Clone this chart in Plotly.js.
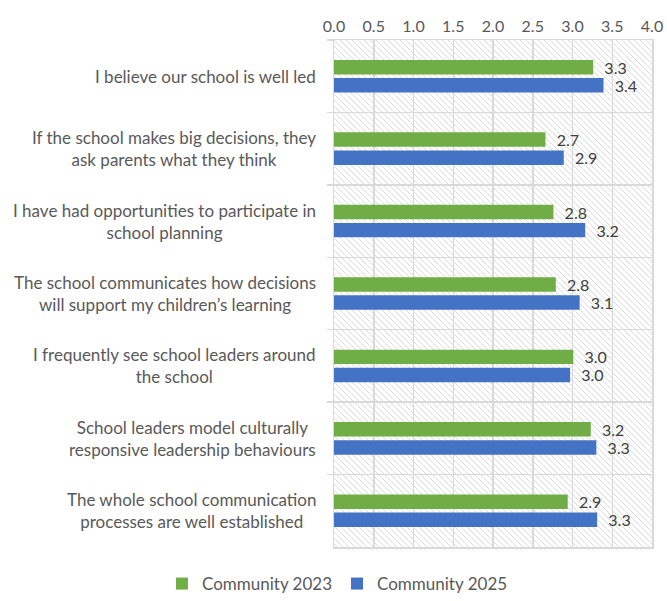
<!DOCTYPE html>
<html>
<head>
<meta charset="utf-8">
<script src="https://cdn.plot.ly/plotly-3.0.1.min.js"></script>
<style>html,body{margin:0;padding:0;background:#fff;}#chart{width:667px;height:601px;}</style>
</head>
<body>
<div id="chart"></div>
<script>
const categories = [
  "I believe our school is well led",
  "If the school makes big decisions, they<br>ask parents what they think",
  "I have had opportunities to participate in<br>school planning",
  "The school communicates how decisions<br>will support my children’s learning",
  "I frequently see school leaders around<br>the school",
  "School leaders model culturally<br>responsive leadership behaviours",
  "The whole school communication<br>processes are well established"
];
const community2023 = [3.26, 2.66, 2.76, 2.79, 3.01, 3.23, 2.94];
const community2025 = [3.39, 2.89, 3.16, 3.09, 2.97, 3.30, 3.31];
const xTicks = [0, 0.5, 1, 1.5, 2, 2.5, 3, 3.5, 4];
const xTickLabels = ["0.0","0.5","1.0","1.5","2.0","2.5","3.0","3.5","4.0"];

const FONT = "Lato, 'Open Sans', sans-serif";
const W = 318, H = 507;
const svg = `<svg xmlns="http://www.w3.org/2000/svg" width="${W}" height="${H}" viewBox="0 0 ${W} ${H}" preserveAspectRatio="none">
<defs><pattern id="p" width="6" height="6" patternUnits="userSpaceOnUse">
<path d="M0,0 L6,6 M-1,5 L1,7 M5,-1 L7,1" stroke="#dcdcdc" stroke-width="1"/></pattern></defs>
<rect width="${W}" height="${H}" fill="#ffffff"/><rect width="${W}" height="${H}" fill="url(#p)"/></svg>`;
const bgSrc = "data:image/svg+xml;charset=utf-8," + encodeURIComponent(svg);

const labelFont = {color:'#404040', size:16, family:FONT};
const traces = [
  {type:'bar', orientation:'h', name:'Community 2023', y:categories, x:community2023,
   marker:{color:'#70AD47'}, texttemplate:'\u00a0\u00a0%{x:.1f}', textposition:'outside',
   constraintext:'none', textfont:labelFont, cliponaxis:false, hoverinfo:'none'},
  {type:'bar', orientation:'h', name:'Community 2025', y:categories, x:community2025,
   marker:{color:'#4472C4'}, texttemplate:'\u00a0\u00a0%{x:.1f}', textposition:'outside',
   constraintext:'none', textfont:labelFont, cliponaxis:false, hoverinfo:'none'}
];

const annotations = categories.map(c => ({
  xref:'paper', yref:'y', x:0, y:c, xanchor:'right', yanchor:'middle', xshift:-16,
  text:c, align:'center', showarrow:false, font:{family:FONT, size:17, color:'#595959'}
}));

const layout = {
  width:667, height:601,
  margin:{l:334, r:15, t:40, b:54, autoexpand:false},
  paper_bgcolor:'#ffffff', plot_bgcolor:'rgba(0,0,0,0)',
  font:{family:FONT, color:'#595959', size:16},
  barmode:'group', bargap:0.5, bargroupgap:0.2,
  xaxis:{side:'top', range:[0,4], tickvals:xTicks, ticktext:xTickLabels,
    showgrid:true, gridcolor:'#d9d9d9', gridwidth:1.5, zeroline:false,
    showline:true, mirror:true, linecolor:'#d9d9d9', linewidth:1.5,
    ticks:'', tickfont:{size:16, color:'#595959'}, fixedrange:true},
  yaxis:{type:'category', autorange:'reversed', tickson:'boundaries',
    showgrid:true, gridcolor:'#d9d9d9', gridwidth:1.5,
    showline:true, mirror:true, linecolor:'#d9d9d9', linewidth:1.5,
    ticks:'outside', ticklen:6, tickcolor:'#d9d9d9', tickwidth:1.5,
    showticklabels:false, fixedrange:true},
  legend:{orientation:'h', x:-0.541, xanchor:'left', xref:'paper', y:-0.073, yref:'paper', yanchor:'middle',
    font:{size:17, color:'#595959'}, itemwidth:30, tracegroupgap:0},
  annotations: annotations,
  images:[{source:bgSrc, xref:'paper', yref:'paper', x:0, y:1, sizex:1, sizey:1,
    xanchor:'left', yanchor:'top', sizing:'stretch', layer:'below'}],
  showlegend:true
};

Plotly.newPlot('chart', traces, layout, {displayModeBar:false, staticPlot:true});
</script>
</body>
</html>
